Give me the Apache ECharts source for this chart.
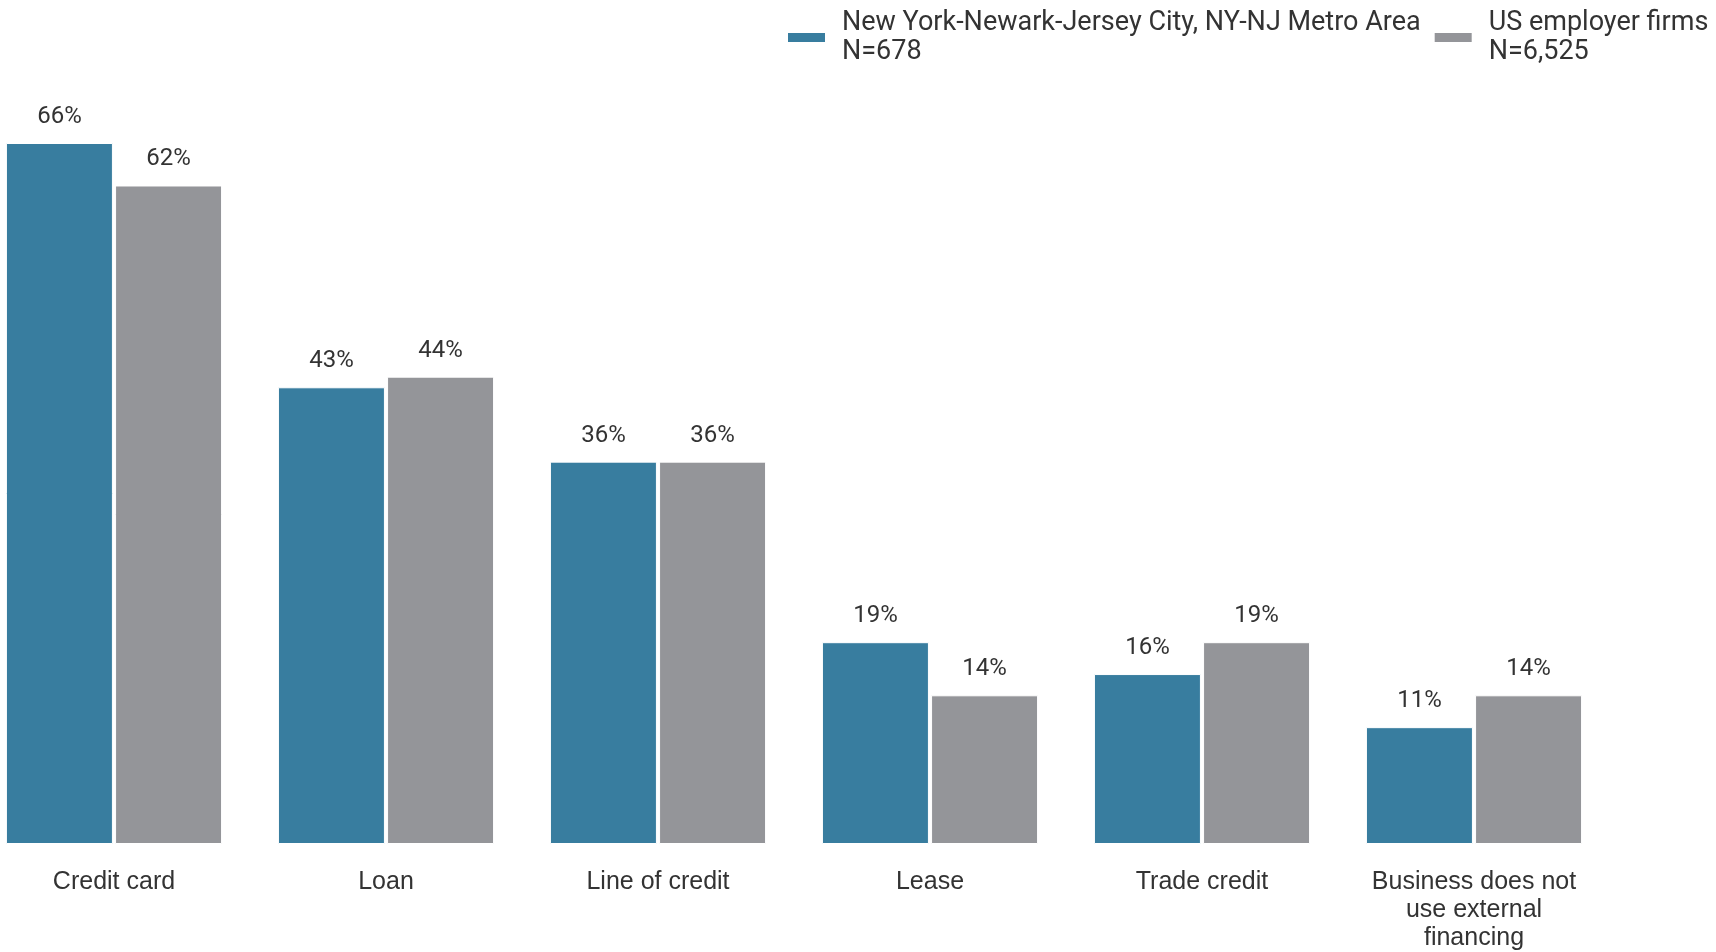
<!DOCTYPE html>
<html>
<head>
<meta charset="utf-8">
<script src="https://cdn.jsdelivr.net/npm/echarts@6/dist/echarts.min.js"></script>
<style>
html,body{margin:0;padding:0;background:#fff;overflow:hidden;}
#chart{width:1738px;height:952px;margin-left:-22px;}
</style>
</head>
<body>
<div id="chart"></div>
<script>
const categories = ['Credit card', 'Loan', 'Line of credit', 'Lease', 'Trade credit', 'Business does not\nuse external\nfinancing'];
const seriesNames = ['New York-Newark-Jersey City, NY-NJ Metro Area', 'US employer firms'];
const legendSubtitles = ['N=678', 'N=6,525'];
const metroValues = [66, 43, 36, 19, 16, 11];
const usValues = [62, 44, 36, 14, 19, 14];
const colors = ['#387d9f', '#949599'];

const chart = echarts.init(document.getElementById('chart'));

function makeSeries(name, data, color) {
  return {
    name: name,
    type: 'bar',
    data: data,
    barWidth: 107,
    barGap: '2%',
    itemStyle: { color: color, borderColor: '#ffffff', borderWidth: 1 },
    label: {
      show: true,
      position: 'top',
      distance: 14,
      formatter: '{c}%',
      fontFamily: 'Roboto',
      fontSize: 24,
      color: '#333333'
    }
  };
}

chart.setOption({
  animation: false,
  backgroundColor: '#ffffff',
  color: colors,
  legend: {
    left: 808,
    top: 9,
    width: 960,
    padding: 0,
    itemWidth: 39,
    itemHeight: 11,
    itemGap: 12,
    icon: 'rect',
    data: seriesNames,
    formatter: function (name) {
      const i = seriesNames.indexOf(name);
      return name + '\n' + legendSubtitles[i];
    },
    textStyle: {
      fontFamily: 'Roboto',
      fontSize: 27,
      lineHeight: 28.5,
      color: '#333333',
      padding: [0, 0, 0, 11]
    }
  },
  grid: {
    left: 0,
    width: 1632,
    top: 143,
    bottom: 107,
    containLabel: false
  },
  xAxis: {
    type: 'category',
    data: categories,
    axisLine: { show: false },
    axisTick: { show: false },
    axisLabel: {
      fontFamily: 'Liberation Sans',
      fontSize: 25,
      lineHeight: 28,
      color: '#333333',
      margin: 24,
      interval: 0
    }
  },
  yAxis: {
    type: 'value',
    min: 0,
    max: 66,
    show: false,
    splitLine: { show: false }
  },
  series: [
    makeSeries(seriesNames[0], metroValues, colors[0]),
    makeSeries(seriesNames[1], usValues, colors[1])
  ]
});
</script>
</body>
</html>
